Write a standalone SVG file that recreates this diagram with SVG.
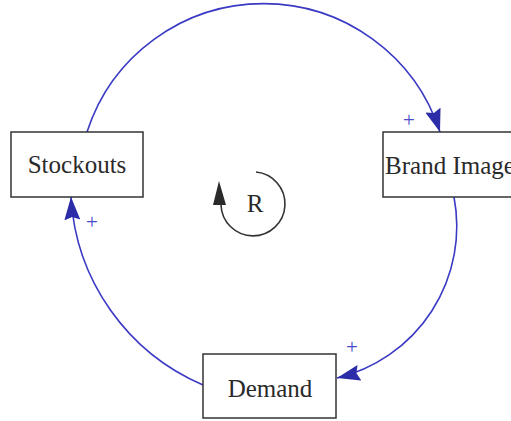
<svg xmlns="http://www.w3.org/2000/svg" width="511" height="421" viewBox="0 0 511 421">
<defs>
<style>
.box{fill:#fff;stroke:#333;stroke-width:1.5}
.lbl{font-family:"Liberation Serif",serif;font-size:25px;fill:#2a2a2a;text-anchor:middle}
.link{fill:none;stroke:#3a3ac4;stroke-width:1.6}
.pol{font-family:"Liberation Serif",serif;font-size:21px;fill:#4848cc;text-anchor:middle}
</style>
<marker id="ah" markerUnits="userSpaceOnUse" markerWidth="26" markerHeight="18" refX="23" refY="8" orient="auto">
<path d="M0,0 L23,8 L0,16 L3,8 z" fill="#2c2ca8"/>
</marker>
</defs>
<rect width="511" height="421" fill="#fff"/>
<g id="connectors">
<path class="link" d="M87,132 A185.5,185.5 0 0 1 440,132" marker-end="url(#ah)"/>
<path class="link" d="M454,197 A156,156 0 0 1 337,378" marker-end="url(#ah)"/>
<path class="link" d="M203,385 A218,218 0 0 1 71,197" marker-end="url(#ah)"/>
<text class="pol" x="409" y="127">+</text>
<text class="pol" x="352" y="354">+</text>
<text class="pol" x="92" y="229">+</text>
</g>
<g id="stockouts">
<rect class="box" x="11" y="132" width="132" height="65"/>
<text class="lbl" x="77" y="173">Stockouts</text>
</g>
<g id="brand-image">
<rect class="box" x="383" y="132" width="134" height="65"/>
<text class="lbl" x="450" y="174">Brand Image</text>
</g>
<g id="demand">
<rect class="box" x="203" y="354" width="133" height="64"/>
<text class="lbl" x="270" y="397">Demand</text>
</g>
<g id="loop-r">
<path d="M256,172 A32,32 0 1 1 221,205" fill="none" stroke="#333" stroke-width="1.6"/>
<polygon points="219,181 213,205 226,205" fill="#2a2a2a"/>
<text class="lbl" x="255" y="212" font-size="22">R</text>
</g>
</svg>
